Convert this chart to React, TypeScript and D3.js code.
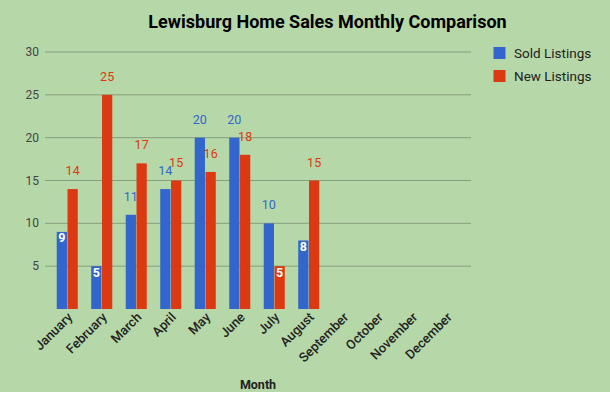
import React from "react";
import * as d3 from "d3";

const months = ["January","February","March","April","May","June","July","August","September","October","November","December"];
const soldListings: (number | null)[] = [9,5,11,14,20,20,10,8,null,null,null,null];
const newListings: (number | null)[] = [14,25,17,15,16,18,5,15,null,null,null,null];
const yTicks = [5,10,15,20,25,30];
const seriesNames = ["Sold Listings","New Listings"];
const seriesColors = ["#3366cc","#dc3912"];

const W = 610, H = 394;
const FONT = "Roboto, 'Noto Sans', Arial, sans-serif";

export default function App() {
  const x = d3.scaleBand<string>().domain(months).range([50, 464]).paddingInner(0.39).paddingOuter(0.195);
  const inner = d3.scaleBand<string>().domain(["0","1"]).range([0, x.bandwidth()]).paddingInner(0.05);
  const y = d3.scaleLinear().domain([0, 30]).range([309, 52]);
  const series = [soldListings, newListings];

  return (
    <svg width={W} height={H} style={{ position: "absolute", left: 0, top: 0, fontFamily: FONT }}>
      <rect x={0} y={0} width={W} height={392} fill="#b6d7a8" />
      <rect x={0} y={392} width={W} height={2} fill="#ffffff" />
      <text x={327.5} y={28} textAnchor="middle" fontSize={18} fontWeight="bold" fill="#000">Lewisburg Home Sales Monthly Comparison</text>
      {yTicks.map(t => (
        <g key={t}>
          <line x1={45} x2={471} y1={y(t)} y2={y(t)} stroke="#889f7e" strokeWidth={1} />
          <text x={39} y={y(t) + 4} textAnchor="end" fontSize={12} fill="#444">{t}</text>
        </g>
      ))}
      {series.map((vals, si) => vals.map((v, i) => {
        if (v == null) return null;
        const bx = (x(months[i]) as number) + (inner(String(si)) as number);
        const bw = inner.bandwidth();
        const top = y(v);
        const insideLabel = v < 10;
        return (
          <g key={si + "-" + i}>
            <rect x={bx} y={top} width={bw} height={y(0) - top} fill={seriesColors[si]} />
            <text x={bx + bw / 2} y={insideLabel ? top + 10.5 : top - 14} textAnchor="middle" fontSize={12.5}
              fontWeight={insideLabel ? "bold" : "normal"} fill={insideLabel ? "#ffffff" : seriesColors[si]}>{v}</text>
          </g>
        );
      }))}
      {months.map(m => {
        const cx = (x(m) as number) + x.bandwidth() / 2 + 6;
        return (
          <text key={m} transform={`translate(${cx},${318}) rotate(-45)`} textAnchor="end" fontSize={13} fontWeight={500} fill="#222">{m}</text>
        );
      })}
      <text x={258} y={389} textAnchor="middle" fontSize={12.5} fontWeight="bold" fill="#222">Month</text>
      {seriesNames.map((n, i) => (
        <g key={n}>
          <rect x={493.5} y={47 + i * 23} width={12} height={12} fill={seriesColors[i]} />
          <text x={514} y={57.5 + i * 23} fontSize={13.5} fill="#222">{n}</text>
        </g>
      ))}
    </svg>
  );
}
